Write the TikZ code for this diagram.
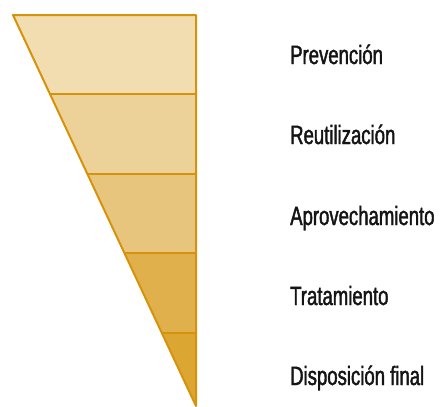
\documentclass[tikz,border=0pt]{standalone}
\usepackage{fontspec}
\newfontfamily\labelfont[FakeStretch=0.70,FakeBold=1.6]{Liberation Sans}
\usetikzlibrary{positioning}

\definecolor{edgegold}{HTML}{D6920A}
\definecolor{bandA}{HTML}{F1DDB0}
\definecolor{bandB}{HTML}{ECD198}
\definecolor{bandC}{HTML}{E8C57C}
\definecolor{bandD}{HTML}{E0B04C}
\definecolor{bandE}{HTML}{DBA632}
\definecolor{labelink}{HTML}{141414}

\begin{document}
\begin{tikzpicture}[x=1pt, y=-1pt,
    band/.style={draw=edgegold, line width=2pt, line join=round},
    level/.style={anchor=base west, inner sep=0pt, text=labelink, font=\labelfont\fontsize{26.5}{29}\selectfont}]

        \useasboundingbox (0,0) rectangle (440,407);

        % Corner points of the funnel
        \coordinate (topL) at (13,15);
        \coordinate (topR) at (196,15);
        \coordinate (apex) at (196,406);

        % Band boundaries: left point on the slanted edge, right point on the vertical edge
        \foreach \n/\y in {1/94, 2/174, 3/253, 4/333} {
            \coordinate (L\n) at ({13+(\y-15)*0.468}, \y);
            \coordinate (R\n) at (196, \y);
        }

        % Fill the bands from light to dark
        \fill[bandA] (topL) -- (topR) -- (R1) -- (L1) -- cycle;
        \fill[bandB] (L1) -- (R1) -- (R2) -- (L2) -- cycle;
        \fill[bandC] (L2) -- (R2) -- (R3) -- (L3) -- cycle;
        \fill[bandD] (L3) -- (R3) -- (R4) -- (L4) -- cycle;
        \fill[bandE] (L4) -- (R4) -- (apex) -- cycle;

        % Outline and dividers
        \draw[band] (topL) -- (topR) -- (apex) -- cycle;
        \foreach \n in {1,...,4} {
            \draw[band] (L\n) -- (R\n);
        }

        % Labels
        \node[level] (prev) at (290,64) {Prevención};
        \node[level] (reut) at (290,144) {Reutilización};
        \node[level] (aprov) at (290,225) {Aprovechamiento};
        \node[level] (trat) at (290,305) {Tratamiento};
        \node[level] (disp) at (290,385) {Disposición final};

    \end{tikzpicture}
\end{document}
